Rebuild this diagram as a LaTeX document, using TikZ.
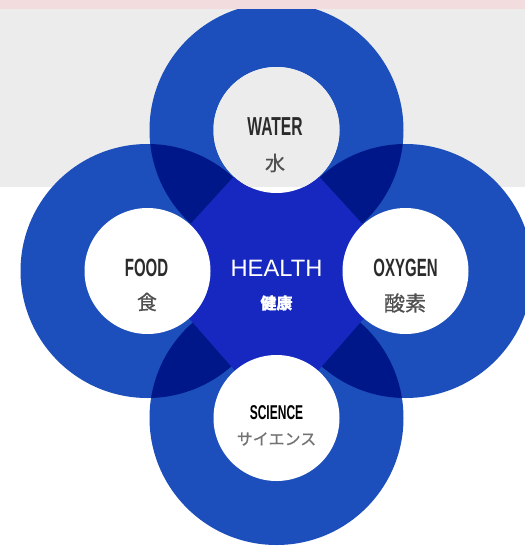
\documentclass[tikz,border=0pt]{standalone}
\usepackage{fontspec}
\setmainfont{Liberation Sans}
\newfontfamily\condfont{Liberation Sans}[FakeStretch=0.6]
\newfontfamily\jpfont{Noto Sans CJK JP}[FakeBold=0.6]

\definecolor{ringblue}{RGB}{28,79,187}
\definecolor{lensblue}{RGB}{0,23,138}
\definecolor{healthblue}{RGB}{22,40,192}
\definecolor{bandgray}{RGB}{236,236,236}
\definecolor{bandpink}{RGB}{242,220,221}
\definecolor{titlegray}{RGB}{43,43,43}
\definecolor{jpgray}{RGB}{80,80,80}

\begin{document}
\begin{tikzpicture}[
    x = 1pt, y = -1pt,
    title/.style = {
      anchor = center, inner sep = 0pt,
      text = titlegray,
      font = \condfont\bfseries\fontsize{25}{25}\selectfont
    },
    jp/.style = {
      anchor = center, inner sep = 0pt,
      text = jpgray,
      font = \jpfont\fontsize{20}{20}\selectfont
    }
  ]
  \useasboundingbox (0,0) rectangle (525,547);

  % Page background
  \fill[white]    (0,0) rectangle (525,547);
  \fill[bandgray] (0,9) rectangle (525,187);

  % The four circle centres
  \coordinate (water)   at (276.5,130);
  \coordinate (food)    at (147.5,271);
  \coordinate (oxygen)  at (405.5,271);
  \coordinate (science) at (276.5,418);

  % The four rings
  \foreach \c in {water, food, oxygen, science}
    \fill[ringblue] (\c) circle (127pt);

  % Where two rings overlap
  \foreach \a/\b in {water/food, water/oxygen, science/food, science/oxygen} {
    \begin{scope}
      \clip (\a) circle (127pt);
      \fill[lensblue] (\b) circle (127pt);
    \end{scope}
  }

  % The centre diamond
  \fill[healthblue] (water) -- (oxygen) -- (science) -- (food) -- cycle;

  % The holes of the rings
  \foreach \c in {water, food, oxygen, science}
    \fill[white] (\c) circle (63pt);
  \begin{scope}
    \clip (water) circle (63pt);
    \fill[bandgray] (0,9) rectangle (525,187);
  \end{scope}

  % Top strip
  \fill[bandpink] (0,0) rectangle (525,9);

  % The labels
  \node[title, font = \condfont\bfseries\fontsize{26}{26}\selectfont]
    (waterEn) at (275,127) {WATER};
  \node[jp] (waterJp) at (275,163) {水};

  \node[title] (foodEn) at (146.5,267.5) {FOOD};
  \node[jp]    (foodJp) at (147,302) {食};

  \node[title] (oxygenEn) at (405.5,268) {OXYGEN};
  \node[jp, font = \jpfont\fontsize{21}{21}\selectfont]
    (oxygenJp) at (405,303) {酸素};

  \node[title, text = black, font = \condfont\bfseries\fontsize{20}{20}\selectfont]
    (scienceEn) at (276.5,413) {SCIENCE};
  \node[jp, text = black!55, font = \jpfont\fontsize{16}{16}\selectfont]
    (scienceJp) at (276.5,439) {サイエンス};

  \node[anchor = center, inner sep = 0pt, text = white,
        font = \fontsize{23.7}{23.7}\selectfont]
    (healthEn) at (276.5,268.5) {HEALTH};
  \node[anchor = center, inner sep = 0pt, text = white,
        font = \jpfont\bfseries\fontsize{16}{16}\selectfont]
    (healthJp) at (276.5,303) {健康};
\end{tikzpicture}
\end{document}
